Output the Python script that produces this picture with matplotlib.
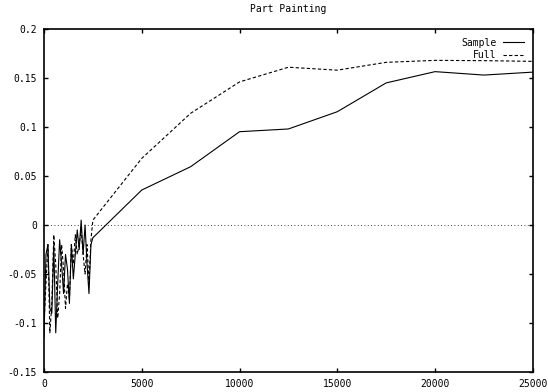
import numpy as np
import matplotlib
matplotlib.use('Agg')
import matplotlib.pyplot as plt
from matplotlib.ticker import FuncFormatter

# noisy start region (every 100), then the coarse steps
x_fine = list(range(0, 2600, 100))
x_coarse = [5000, 7500, 10000, 12500, 15000, 17500, 20000, 22500, 25000]

sample_fine = [-0.115, -0.03, -0.02, -0.085, -0.09, -0.02, -0.11, -0.06, -0.015, -0.04,
               -0.07, -0.03, -0.045, -0.08, -0.02, -0.055, -0.03, -0.005, -0.025, 0.005,
               -0.03, 0.0, -0.04, -0.07, -0.02, -0.013]
sample_coarse = [0.0357, 0.0595, 0.0952, 0.098, 0.1156, 0.145, 0.1565, 0.153, 0.156]

full_fine = [-0.1, -0.06, -0.02, -0.11, -0.08, -0.01, -0.04, -0.095, -0.07, -0.02,
             -0.045, -0.085, -0.06, -0.075, -0.02, -0.04, -0.01, -0.03, -0.02, -0.005,
             -0.03, -0.05, -0.02, -0.06, -0.015, 0.005]
full_coarse = [0.068, 0.114, 0.146, 0.161, 0.158, 0.166, 0.168, 0.1677, 0.167]

x_ticks = [0, 5000, 10000, 15000, 20000, 25000]
y_ticks = [-0.15, -0.1, -0.05, 0, 0.05, 0.1, 0.15, 0.2]

plt.rcParams['font.family'] = 'DejaVu Sans Mono'
plt.rcParams['font.size'] = 7

fig = plt.figure(figsize=(5.48, 3.92), dpi=100)
ax = fig.add_axes([0.0803, 0.051, 0.892, 0.875])

ax.axhline(0, color='black', lw=0.6, ls=(0, (1, 3)))
ax.plot(x_fine + x_coarse, sample_fine + sample_coarse, color='black', lw=0.8, label='Sample')
ax.plot(x_fine + x_coarse, full_fine + full_coarse, color='black', lw=0.8,
        ls=(0, (3, 2)), label='Full')

ax.set_xlim(0, 25000)
ax.set_ylim(-0.15, 0.2)
ax.set_xticks(x_ticks)
ax.set_yticks(y_ticks)
ax.yaxis.set_major_formatter(FuncFormatter(lambda v, p: '%g' % round(v, 3)))
ax.tick_params(direction='in', length=3, width=1, top=True, right=True, pad=5,
               labelsize=7)
for s in ax.spines.values():
    s.set_linewidth(1.2)

ax.set_title('Part Painting', fontsize=7, pad=12)
ax.legend(loc='upper right', frameon=False, markerfirst=False, handlelength=2.2,
          handletextpad=0.6, borderaxespad=0.5, labelspacing=0.25, fontsize=7)

fig.savefig('out.png', dpi=100)
